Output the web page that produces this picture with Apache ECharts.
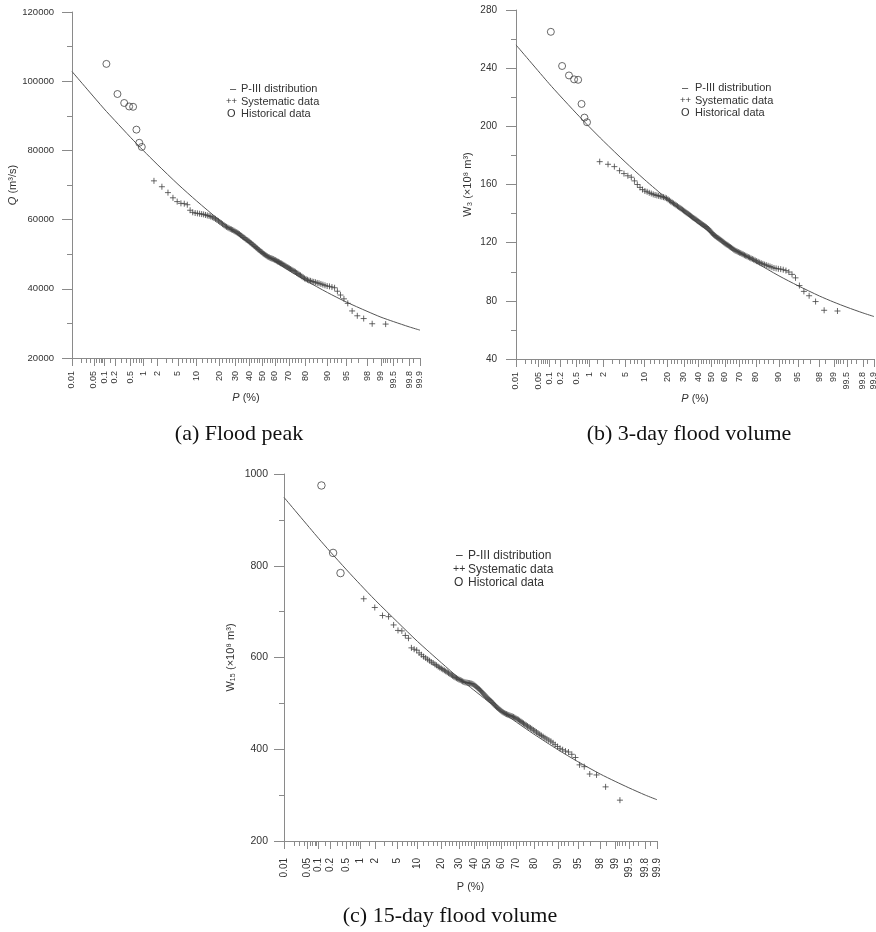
<!DOCTYPE html>
<html><head><meta charset="utf-8">
<script src="https://cdn.jsdelivr.net/npm/echarts@6/dist/echarts.min.js"></script>
<style>html,body{margin:0;padding:0;background:#fff}#c{width:876px;height:932px}</style>
</head><body><div id="c"></div><script>
// ---------- probability-axis tick labels ----------
const tickLabelsP = ['0.01','0.05','0.1','0.2','0.5','1','2','5','10','20','30','40','50','60','70','80','90','95','98','99','99.5','99.8','99.9'];
const minorTicksP = [0.02,0.03,0.04,0.06,0.07,0.08,0.09,0.15,0.3,0.4,0.6,0.7,0.8,0.9,1.5,3,4,6,7,8,9,
  12,14,16,18,22,24,26,28,32,34,36,38,42,44,46,48,52,54,56,58,62,64,66,68,72,74,76,78,82,84,86,88,
  91,92,93,94,96,97,98.5,99.1,99.2,99.3,99.4,99.6,99.7,99.85];

// ---------- (a) Flood peak ----------
const curveP = [0.01,0.1,0.2,0.5,1,2,5,10,20,30,40,50,60,70,80,90,95,98,99,99.5,99.8,99.9];
const curveA = [102800,92000,88600,83800,80000,76000,70200,65400,59900,56200,53200,50500,47900,45300,42500,38900,36200,33500,31800,30500,29000,28050];
const histPA = [0.116,0.233,0.349,0.465,0.581,0.698,0.814,0.930];
const histA  = [105000,96300,93700,92700,92600,86000,82200,81000];
const sysPA = [1.72,2.50,3.28,4.06,4.84,5.62,6.40,7.18,7.96,8.74,9.52,10.30,11.08,11.86,12.64,13.42,14.20,14.98,15.76,16.54,
  17.32,18.10,18.88,19.66,20.44,21.22,22.00,22.78,23.56,24.34,25.12,25.90,26.68,27.46,28.24,29.02,29.80,30.58,31.36,32.14,
  32.92,33.70,34.48,35.26,36.04,36.82,37.60,38.38,39.16,39.94,40.72,41.50,42.28,43.06,43.84,44.62,45.40,46.18,46.96,47.74,
  48.52,49.30,50.08,50.86,51.64,52.42,53.20,53.98,54.76,55.54,56.32,57.10,57.88,58.66,59.44,60.22,61.00,61.78,62.56,63.34,
  64.12,64.90,65.68,66.46,67.24,68.02,68.80,69.58,70.36,71.14,71.92,72.70,73.48,74.26,75.04,75.82,76.60,77.38,78.16,78.94,
  79.72,80.50,81.28,82.06,82.84,83.62,84.40,85.18,85.96,86.74,87.52,88.30,89.08,89.86,90.64,91.42,92.20,92.98,93.76,94.54,
  95.32,96.10,96.88,97.66,98.44,99.22];
const sysA = [71200,69500,67800,66300,65200,64700,64600,64300,62700,62100,
  61900,61800,61700,61600,61500,61350,61200,61050,60900,60700,
  60450,60200,59900,59600,59300,59000,58700,58400,58100,57900,
  57700,57500,57300,57150,57000,56800,56600,56400,56200,56000,
  55800,55500,55300,55000,54800,54600,54300,54100,53900,53700,
  53400,53200,52900,52700,52400,52200,51900,51700,51400,51200,
  50900,50700,50500,50200,50000,49800,49600,49400,49200,49100,
  48900,48800,48700,48600,48400,48300,48100,47900,47800,47600,
  47400,47300,47100,46900,46700,46500,46300,46100,45900,45700,
  45500,45300,45100,44900,44600,44400,44100,43900,43600,43300,
  43000,42800,42600,42400,42300,42100,42000,41900,41700,41600,
  41400,41200,41000,40800,40700,40500,40300,39300,38200,37100,
  35800,33600,32200,31400,29900,29800];

// ---------- (b) 3-day flood volume ----------
const curveB = [256,229.4,220.9,209.1,199.7,189.8,175.6,163.6,150,140.8,133.2,126.5,120.1,113.6,106.4,97.2,90.4,83.3,79.1,75.6,71.7,69.2];
const histPB = [0.112,0.224,0.335,0.447,0.559,0.671,0.782,0.894];
const histB  = [265,241.5,235,232.3,232,215.4,206,202.8];
const sysPB = [1.67,2.45,3.23,4.01,4.79,5.57,6.35,7.13,7.91,8.69,9.47,10.25,11.03,11.81,12.59,13.37,14.15,14.93,15.71,16.49,
  17.27,18.05,18.83,19.61,20.39,21.17,21.95,22.73,23.51,24.29,25.07,25.85,26.63,27.41,28.19,28.97,29.75,30.53,31.31,32.09,
  32.87,33.65,34.43,35.21,35.99,36.77,37.55,38.33,39.11,39.89,40.67,41.45,42.23,43.01,43.79,44.57,45.35,46.13,46.91,47.69,
  48.47,49.25,50.03,50.81,51.59,52.37,53.15,53.93,54.71,55.49,56.27,57.05,57.83,58.61,59.39,60.17,60.95,61.73,62.51,63.29,
  64.07,64.85,65.63,66.41,67.19,67.97,68.75,69.53,70.31,71.09,71.87,72.65,73.43,74.21,74.99,75.77,76.55,77.33,78.11,78.89,
  79.67,80.45,81.23,82.01,82.79,83.57,84.35,85.13,85.91,86.69,87.47,88.25,89.03,89.81,90.59,91.37,92.15,92.93,93.71,94.49,
  95.27,96.05,96.83,97.61,98.39,99.17];
const sysB = [175.7,173.9,172.3,169.5,167.5,166.0,165.0,162.5,160.0,158.0,
  156.5,155.5,155.0,154.3,153.8,153.2,152.8,152.5,152.2,151.9,
  151.6,151.3,150.9,150.5,149.8,149.0,148.2,147.6,147.0,146.4,
  145.7,145.1,144.5,143.9,143.3,142.7,142.1,141.5,140.9,140.3,
  139.8,139.2,138.6,138.0,137.4,136.9,136.4,135.9,135.3,134.8,
  134.2,133.6,133.1,132.6,132.1,131.6,131.1,130.6,130.0,129.4,
  128.6,127.8,127.0,126.2,125.5,124.9,124.4,123.8,123.3,122.8,
  122.3,121.8,121.2,120.6,120.0,119.4,118.9,118.5,118.0,117.4,
  116.9,116.4,115.8,115.2,114.7,114.3,113.9,113.5,113.1,112.8,
  112.3,111.9,111.4,111.0,110.6,110.1,109.7,109.2,108.8,108.3,
  107.8,107.3,106.8,106.3,105.8,105.4,104.9,104.5,104.1,103.6,
  103.1,102.6,102.3,102.0,101.8,101.4,100.8,99.8,98.2,95.8,
  90.5,86.5,83.5,79.5,73.5,73.0];

// ---------- (c) 15-day flood volume ----------
const curveC = [949,860,831,791,759,725,677,635,588,555,529,505,482,459,433,399,373,346,330,316,300,290];
const histPC = [0.12,0.238,0.36];
const histC  = [975,828,784];
const sysPC = [1.18,1.96,2.74,3.51,4.29,5.07,5.85,6.63,7.40,8.18,8.96,9.74,10.52,11.29,12.07,12.85,13.63,14.41,15.18,15.96,
  16.74,17.52,18.30,19.07,19.85,20.63,21.41,22.19,22.96,23.74,24.52,25.30,26.08,26.85,27.63,28.41,29.19,29.97,30.74,31.52,
  32.30,33.08,33.86,34.63,35.41,36.19,36.97,37.75,38.52,39.30,40.08,40.86,41.64,42.41,43.19,43.97,44.75,45.53,46.30,47.08,
  47.86,48.64,49.42,50.19,50.97,51.75,52.53,53.31,54.08,54.86,55.64,56.42,57.20,57.97,58.75,59.53,60.31,61.09,61.86,62.64,
  63.42,64.20,64.98,65.75,66.53,67.31,68.09,68.87,69.64,70.42,71.20,71.98,72.76,73.53,74.31,75.09,75.87,76.65,77.42,78.20,
  78.98,79.76,80.54,81.31,82.09,82.87,83.65,84.43,85.20,85.98,86.76,87.54,88.32,89.09,89.87,90.65,91.43,92.21,92.98,93.76,
  94.54,95.32,96.10,96.87,97.65,98.43,99.21];
const sysC = [728,709,691.5,689,671,659,658,648,642,621,
  618,616,610,606,602,599,596,593,590,588,
  585,583,580,578,576,574,572,570,568,566,
  564,562,560,558,556.5,555,553.5,552,551,549.5,
  548,547,546,545.5,545,544.5,544,543.5,543,542,
  540.5,538.5,536.5,534.5,532.5,530.5,528,525.5,523,520.5,
  518,515.5,513,510.5,508.5,506.5,504.5,502,499.5,497,
  494.5,492,490,488,486,484,482,480.5,479,477.5,
  476.5,475.5,474.5,473.5,472.5,471.5,470.5,469,467.5,466,
  464.5,462.5,460.5,458.5,456.5,454.5,452.5,450.5,448.5,446.5,
  444.5,442,440,437.5,435,432.5,430,427.5,425,422.5,
  420,417.5,414,410,406,402,399,396,394,389,
  382,366,362,346,344,318,289];

const legendLabels = ['P-III distribution','Systematic data','Historical data'];
const legendMarks = ['\u2013','++','O'];

// ---------- probability scale (normal quantile) ----------
function normInv(p){
  const a=[-3.969683028665376e+01,2.209460984245205e+02,-2.759285104469687e+02,1.383577518672690e+02,-3.066479806614716e+01,2.506628277459239e+00];
  const b=[-5.447609879822406e+01,1.615858368580409e+02,-1.556989798598866e+02,6.680131188771972e+01,-1.328068155288572e+01];
  const c=[-7.784894002430293e-03,-3.223964580411365e-01,-2.400758277161838e+00,-2.549732539343734e+00,4.374664141464968e+00,2.938163982698783e+00];
  const d=[7.784695709041462e-03,3.224671290700398e-01,2.445134137142996e+00,3.754408661907416e+00];
  const pl=0.02425, ph=1-pl; let q,r;
  if(p<pl){q=Math.sqrt(-2*Math.log(p));return (((((c[0]*q+c[1])*q+c[2])*q+c[3])*q+c[4])*q+c[5])/((((d[0]*q+d[1])*q+d[2])*q+d[3])*q+1);}
  if(p<=ph){q=p-0.5;r=q*q;return (((((a[0]*r+a[1])*r+a[2])*r+a[3])*r+a[4])*r+a[5])*q/(((((b[0]*r+b[1])*r+b[2])*r+b[3])*r+b[4])*r+1);}
  q=Math.sqrt(-2*Math.log(1-p));return -(((((c[0]*q+c[1])*q+c[2])*q+c[3])*q+c[4])*q+c[5])/((((d[0]*q+d[1])*q+d[2])*q+d[3])*q+1);
}
const zp = P => normInv(P/100);
const majorZ = tickLabelsP.map(s => zp(parseFloat(s)));
const minorZ = minorTicksP.map(zp);
const zMin = majorZ[0], zMax = majorZ[majorZ.length-1];
function labelFor(v){
  let bi=0, bd=1e9;
  majorZ.forEach((z,i)=>{const dd=Math.abs(z-v); if(dd<bd){bd=dd;bi=i;}});
  return tickLabelsP[bi];
}
const pairs = (P, V) => P.map((p,i)=>[zp(p), V[i]]);

const AX = '#8a8a8a', TXT = '#333', FONT = 'Liberation Sans';
const CROSS = 'path://M0,5L10,5M5,0L5,10';

const panels = [
  {grid:{left:72, top:12, width:348, height:346}, ymin:20000, ymax:120000, yint:20000, yfs:9.5, ymargin:18,
   xfs:9, xmargin:13, yname:'{i|Q} (m\u00B3/s)', ynameGap:51, xname:'{i|P} (%)', xnameGap:33,
   curve:curveA, histP:histPA, hist:histA, sysP:sysPA, sys:sysA, csize:7},
  {grid:{left:516, top:10, width:358, height:349}, ymin:40, ymax:280, yint:40, yfs:10, ymargin:19,
   xfs:9, xmargin:13, yname:'W\u2083 (\u00D710\u2078 m\u00B3)', ynameGap:43, xname:'{i|P} (%)', xnameGap:33,
   curve:curveB, histP:histPB, hist:histB, sysP:sysPB, sys:sysB, csize:7},
  {grid:{left:284, top:474, width:373, height:367}, ymin:200, ymax:1000, yint:200, yfs:10.5, ymargin:16,
   xfs:10, xmargin:17, yname:'W\u2081\u2085 (\u00D710\u2078 m\u00B3)', ynameGap:48, xname:'P (%)', xnameGap:38,
   curve:curveC, histP:histPC, hist:histC, sysP:sysPC, sys:sysC, csize:7.5}
];

const grid=[], xAxis=[], yAxis=[], series=[];
panels.forEach((pn,i)=>{
  grid.push(Object.assign({containLabel:false, outerBoundsMode:'none'}, pn.grid));
  xAxis.push({type:'value', gridIndex:i, position:'bottom', min:zMin, max:zMax,
    axisLine:{show:true, onZero:false, lineStyle:{color:AX, width:1}},
    axisTick:{show:true, length:8, customValues:majorZ, lineStyle:{color:AX, width:1}},
    axisLabel:{show:true, customValues:majorZ, rotate:90, margin:pn.xmargin, fontSize:pn.xfs, color:TXT, fontFamily:FONT,
      formatter:v=>labelFor(v)},
    splitLine:{show:false},
    name:pn.xname, nameLocation:'middle', nameGap:pn.xnameGap,
    nameTextStyle:{fontSize:11, color:TXT, fontFamily:FONT, rich:{i:{fontStyle:'italic', fontSize:11, color:TXT, fontFamily:FONT}}}
  });
  xAxis.push({type:'value', gridIndex:i, position:'bottom', offset:0, min:zMin, max:zMax,
    axisLine:{show:false, onZero:false},
    axisTick:{show:true, length:5, customValues:minorZ, lineStyle:{color:AX, width:1}},
    axisLabel:{show:false}, splitLine:{show:false}
  });
  yAxis.push({type:'value', gridIndex:i, position:'left', min:pn.ymin, max:pn.ymax, interval:pn.yint,
    axisLine:{show:true, onZero:false, lineStyle:{color:AX, width:1}},
    axisTick:{show:true, length:10, lineStyle:{color:AX, width:1}},
    minorTick:{show:true, splitNumber:2, length:5, lineStyle:{color:AX, width:1}},
    axisLabel:{fontSize:pn.yfs, margin:pn.ymargin, color:TXT, fontFamily:FONT, formatter:v=>String(v)},
    splitLine:{show:false}, minorSplitLine:{show:false},
    name:pn.yname, nameLocation:'middle', nameRotate:90, nameGap:pn.ynameGap,
    nameTextStyle:{fontSize:11, color:TXT, fontFamily:FONT, rich:{i:{fontStyle:'italic', fontSize:11, color:TXT, fontFamily:FONT}}}
  });
  series.push({name:legendLabels[0], type:'line', xAxisIndex:2*i, yAxisIndex:i, data:pairs(curveP, pn.curve),
    smooth:0.25, showSymbol:false, symbol:'none', silent:true, z:2,
    lineStyle:{color:'#555', width:1}});
  series.push({name:legendLabels[1], type:'scatter', xAxisIndex:2*i, yAxisIndex:i, data:pairs(pn.sysP, pn.sys),
    symbol:CROSS, symbolSize:6, silent:true, z:3,
    itemStyle:{color:'rgba(0,0,0,0)', borderColor:'#444', borderWidth:1}});
  series.push({name:legendLabels[2], type:'scatter', xAxisIndex:2*i, yAxisIndex:i, data:pairs(pn.histP, pn.hist),
    symbol:'circle', symbolSize:pn.csize, silent:true, z:3,
    itemStyle:{color:'rgba(0,0,0,0)', borderColor:'#444', borderWidth:1}});
});

// legend-like text blocks and captions
const legendPos = [
  {mx:[230,226,227], tx:241, ys:[89,101.5,114], fs:11},
  {mx:[682,680,681], tx:695, ys:[88,100.5,113], fs:11},
  {mx:[456,453,454], tx:468, ys:[556,569.5,583], fs:12}
];
const graphic = [];
legendPos.forEach(lp=>{
  legendLabels.forEach((t,k)=>{
    const mf = k===1 ? lp.fs-1.5 : lp.fs;
    graphic.push({type:'text', silent:true, style:{text:legendMarks[k], x:lp.mx[k], y:lp.ys[k], fill:TXT,
      font:mf+'px "'+FONT+'"', verticalAlign:'middle', align:'left'}});
    graphic.push({type:'text', silent:true, style:{text:t, x:lp.tx, y:lp.ys[k], fill:TXT,
      font:lp.fs+'px "'+FONT+'"', verticalAlign:'middle', align:'left'}});
  });
});
const captions = [
  {t:'(a) Flood peak', x:239, y:434},
  {t:'(b) 3-day flood volume', x:689, y:434},
  {t:'(c) 15-day flood volume', x:450, y:916}
];
captions.forEach(c=>graphic.push({type:'text', silent:true, style:{text:c.t, x:c.x, y:c.y, fill:'#111',
  font:'22px "Liberation Serif"', verticalAlign:'middle', align:'center'}}));

const chart = echarts.init(document.getElementById('c'), null, {renderer:'canvas'});
chart.setOption({animation:false, backgroundColor:'#fff', grid, xAxis, yAxis, series, graphic});
</script></body></html>
